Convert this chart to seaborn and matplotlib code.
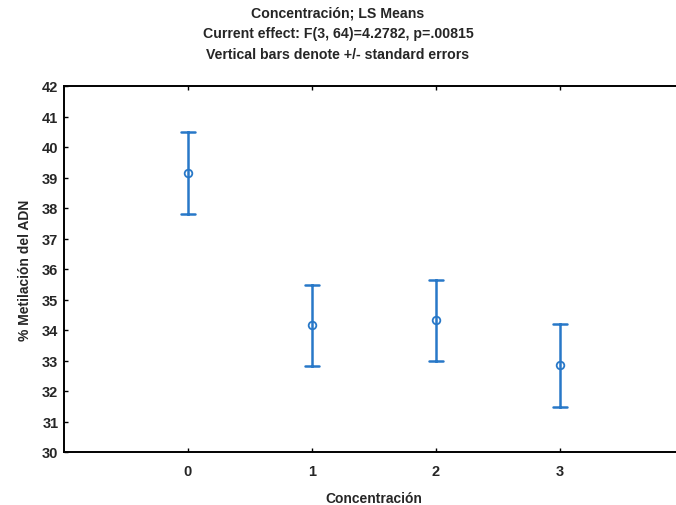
import matplotlib
matplotlib.use("Agg")
import matplotlib.pyplot as plt
import seaborn as sns
import pandas as pd

# LS means and standard errors per concentration level
concentracion = ["0", "1", "2", "3"]
ls_means = [39.15, 34.15, 34.32, 32.84]
std_errors = [1.35, 1.33, 1.33, 1.35]
y_ticks = list(range(30, 43))

sns.set_style("white")
plt.rcParams["font.family"] = ["Liberation Sans", "DejaVu Sans"]
plt.rcParams["font.weight"] = "bold"

# expand each mean into (mean - se, mean, mean + se) so the estimator gives the mean
# and the min/max interval gives +/- one standard error
rows = []
for c, m, s in zip(concentracion, ls_means, std_errors):
    for v in (m - s, m, m + s):
        rows.append({"Concentración": c, "valor": v})
df = pd.DataFrame(rows)

fig = plt.figure(figsize=(6.76, 5.06), dpi=100)
ax = fig.add_axes([64 / 676, 1 - 453 / 506, 620 / 676, 366 / 506])

color = "#2878c8"
sns.pointplot(
    data=df, x="Concentración", y="valor", order=concentracion,
    estimator="mean", errorbar=lambda x: (x.min(), x.max()),
    linestyle="none", color=color, capsize=0.105, err_kws={"linewidth": 1.8},
    markers="o", markersize=5.5, markerfacecolor="white", markeredgewidth=1.3,
    ax=ax,
)

fs = 10.5
ax.set_xlim(-1, 4)
ax.set_ylim(30, 42)
ax.set_yticks(y_ticks)
ax.set_yticklabels([str(t) for t in y_ticks])
ax.tick_params(axis="both", direction="in", length=3, width=1, labelsize=fs,
               top=True, bottom=True, left=True, right=False, color="black")
for lbl in ax.get_xticklabels() + ax.get_yticklabels():
    lbl.set_fontweight("bold")
ax.tick_params(axis="x", pad=9)
ax.tick_params(axis="y", pad=4)

for side in ("left", "bottom", "top"):
    ax.spines[side].set_visible(True)
    ax.spines[side].set_color("black")
    ax.spines[side].set_linewidth(1.4)
ax.spines["right"].set_visible(False)

ax.set_xlabel("Concentración", fontsize=10, fontweight="bold", labelpad=9)
ax.set_ylabel("% Metilación del ADN", fontsize=10, fontweight="bold", labelpad=7)

fig.text(0.5, 1 - 13 / 506, "Concentración; LS Means", ha="center", va="center",
         fontsize=10.2, fontweight="bold")
fig.text(0.5, 1 - 34 / 506, "Current effect: F(3, 64)=4.2782, p=.00815", ha="center",
         va="center", fontsize=10.2, fontweight="bold")
fig.text(0.5, 1 - 55 / 506, "Vertical bars denote +/- standard errors", ha="center",
         va="center", fontsize=10.2, fontweight="bold")

fig.savefig("out.png", dpi=100, facecolor="white")
